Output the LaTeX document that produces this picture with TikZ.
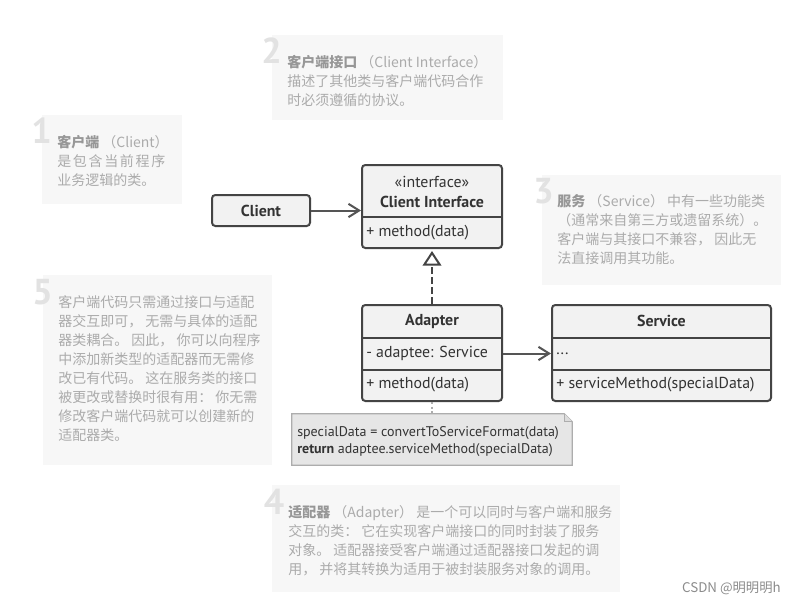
\documentclass[tikz,border=0pt]{standalone}
\usepackage{fontspec}
\setmainfont{PT Sans}
\newfontfamily\cjk{Noto Sans CJK SC}
\usetikzlibrary{arrows.meta,fit}
\definecolor{boxfill}{HTML}{F2F2F2}
\definecolor{boxdraw}{HTML}{444444}
\definecolor{arrowcol}{HTML}{555555}
\definecolor{txt}{HTML}{333333}
\definecolor{cmtfill}{HTML}{F7F7F7}
\definecolor{cmttext}{HTML}{ABABAB}
\definecolor{cmttitle}{HTML}{979797}
\definecolor{numcol}{HTML}{E2E2E2}
\definecolor{notefill}{HTML}{E6E6E6}
\definecolor{notedraw}{HTML}{ADADAD}
\definecolor{marktext}{HTML}{8C8C8C}
\begin{document}
\begin{tikzpicture}[x=0.75pt,y=-0.75pt,
  cmtbox/.style={fill=cmtfill, inner sep=0pt},
  cmtnum/.style={font=\fontsize{27}{27}\selectfont\bfseries, text=numcol, inner sep=0pt, anchor=base},
  cmttxt/.style={font=\cjk\fontsize{10.5}{14.25}\selectfont, text=cmttext, align=left, inner sep=0pt, anchor=west},
  umlbox/.style={fill=boxfill, draw=boxdraw, line width=1.5pt, rounded corners=2.5pt, inner sep=0pt},
  divider/.style={draw=boxdraw, line width=1.5pt},
  umltxt/.style={font=\fontsize{11.9}{13}\selectfont, text=txt, inner sep=0pt},
  umlbold/.style={umltxt, font=\fontsize{11.9}{13}\selectfont\bfseries},
  assoc/.style={draw=arrowcol, line width=1.5pt, -{Straight Barb[length=8pt,width=10pt]}},
  realize/.style={draw=boxdraw, line width=1.5pt, dash pattern=on 5pt off 2.5pt, shorten >=1.5pt, -{Triangle[open,length=11pt,width=14pt,line width=1.5pt]}},
  notelink/.style={draw=notedraw, line width=1pt, dash pattern=on 1.5pt off 2pt},
  notebox/.style={draw=notedraw, fill=notefill, line width=0.9pt}
]
\useasboundingbox[fill=white] (0,0) rectangle (795,606);

% ---- comment boxes ----
\node[cmtbox, fit={(42,115) (182,204)}] (c1) {};
\node[cmtbox, fit={(272,35) (503,120)}] (c2) {};
\node[cmtbox, fit={(542,175) (781,285)}] (c3) {};
\node[cmtbox, fit={(43,275) (272,465)}] (c5) {};
\node[cmtbox, fit={(272,485) (620,592)}] (c4) {};

\node[cmtnum] (n1) at (41.5,144) {1};
\node[cmtnum] (n2) at (271.5,64) {2};
\node[cmtnum] (n3) at (543.5,203) {3};
\node[cmtnum] (n5) at (42.5,304) {5};
\node[cmtnum] (n4) at (274,514) {4};

\node[cmttxt] (t1) at (57,161) {{\bfseries\color{cmttitle}客户端} （Client）\\
{\addfontfeature{LetterSpace=12}是包含当前程序}\\
业务逻辑的类。};

\node[cmttxt] (t2) at (287,81) {{\bfseries\color{cmttitle}客户端接口} （Client Interface）\\
描述了其他类与客户端代码合作\\
时必须遵循的协议。};

\node[cmttxt] (t3) at (557,229.5) {{\bfseries\color{cmttitle}服务} （Service） 中有一些功能类\\
（通常来自第三方或遗留系统）。\\
客户端与其接口不兼容， 因此无\\
法直接调用其功能。};

\node[cmttxt] (t5) at (58,368.5) {客户端代码只需通过接口与适配\\
器交互即可， 无需与具体的适配\\
器类耦合。 因此， 你可以向程序\\
中添加新类型的适配器而无需修\\
改已有代码。 这在服务类的接口\\
被更改或替换时很有用： 你无需\\
修改客户端代码就可以创建新的\\
适配器类。};

\node[cmttxt] (t4) at (288,541) {{\bfseries\color{cmttitle}适配器} （Adapter） 是一个可以同时与客户端和服务\\
交互的类： 它在实现客户端接口的同时封装了服务\\
对象。 适配器接受客户端通过适配器接口发起的调\\
用， 并将其转换为适用于被封装服务对象的调用。};

% ---- UML boxes ----
\node[umlbox, fit={(212,195) (310,226)}] (client) {};
\node[umlbold] (clientname) at (client.center) {Client};

\node[umlbox, fit={(362,165) (502,248)}] (ci) {};
\draw[divider] (ci.west |- 0,217) -- (ci.east |- 0,217);
\node[umltxt] (cistereo) at (432,182) {«interface»};
\node[umlbold] (ciname) at (432,202) {Client Interface};
\node[umltxt, anchor=west] (cimeth) at (366,233) {+ method(data)};

\node[umlbox, fit={(362,305) (502,401)}] (adapter) {};
\draw[divider] (adapter.west |- 0,337.5) -- (adapter.east |- 0,337.5);
\draw[divider] (adapter.west |- 0,369.5) -- (adapter.east |- 0,369.5);
\node[umlbold] (adname) at (432,321) {Adapter};
\node[umltxt, anchor=west] (adfield) at (366,353.5) {- adaptee: Service};
\node[umltxt, anchor=west] (admeth) at (366,385) {+ method(data)};

\node[umlbox, fit={(552,305) (771,401)}] (service) {};
\draw[divider] (service.west |- 0,337.5) -- (service.east |- 0,337.5);
\draw[divider] (service.west |- 0,369.5) -- (service.east |- 0,369.5);
\node[umlbold] (svname) at (661.5,321) {Service};
\node[umltxt, anchor=west] (svfield) at (556,353.5) {...};
\node[umltxt, anchor=west] (svmeth) at (556,385) {+ serviceMethod(specialData)};

% ---- connectors ----
\draw[assoc] (client.east) -- (ci.west |- client.east);
\draw[realize] (adapter.north) -- (ci.south);
\draw[assoc] (adapter.east |- adfield.west) -- (service.west |- adfield.west);

% ---- note ----
\node[inner sep=0pt, fit={(292,414) (572,465)}] (note) {};
\draw[notelink] (adapter.south) -- (note.north -| adapter.south);
\draw[notebox] (note.south west) -- (note.north west) -- ([xshift=-6pt]note.north east)
  -- ([yshift=-6pt]note.north east) -- (note.south east) -- cycle;
\draw[notebox, fill=notefill!85!black!30!notefill] ([xshift=-6pt]note.north east) -- ([xshift=-6pt,yshift=-6pt]note.north east) -- ([yshift=-6pt]note.north east);
\node[anchor=west, inner sep=0pt, align=left, text=txt, font=\fontsize{10.5}{13}\selectfont] (notetxt) at (297,441.5)
  {specialData = convertToServiceFormat(data)\\ \textbf{return} adaptee.serviceMethod(specialData)};

% ---- watermark ----
\node[anchor=east, inner sep=0pt, text=marktext, font=\cjk\fontsize{10}{12}\selectfont] (mark) at (781,588) {CSDN @明明明h};
\end{tikzpicture}
\end{document}
